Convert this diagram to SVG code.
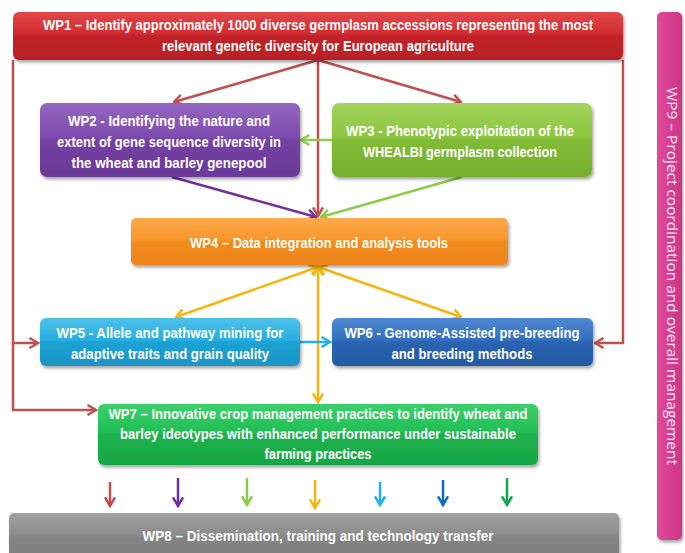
<svg xmlns="http://www.w3.org/2000/svg" width="685" height="553" viewBox="0 0 685 553">
<defs>
<style>
.t{font-family:"Liberation Sans",Arial,sans-serif;font-weight:bold;font-size:14.5px;fill:#fff;text-anchor:middle;dominant-baseline:central}
.t9{font-family:"Open Sans","DejaVu Sans",sans-serif;font-size:14px;fill:#FCE8F2;text-anchor:middle;dominant-baseline:central}
.c{fill:none;stroke-width:2.5}
.red{stroke:#C0504D}.pur{stroke:#7030A0}.lg{stroke:#8DCB4A}.yel{stroke:#F5B50E}.lb{stroke:#1FB0EC}.bl{stroke:#0F6CC0}.gr{stroke:#10A84C}
</style>
<filter id="sh" x="-5%" y="-10%" width="110%" height="130%"><feDropShadow dx="1.5" dy="2.5" stdDeviation="1.8" flood-color="#000" flood-opacity="0.35"/></filter>
<linearGradient id="g1" x1="0" y1="0" x2="0" y2="1"><stop offset="0" stop-color="#E0474A"/><stop offset="0.45" stop-color="#D42C30"/><stop offset="0.5" stop-color="#C2232A"/><stop offset="1" stop-color="#B71F24"/></linearGradient>
<linearGradient id="g2" x1="0" y1="0" x2="0" y2="1"><stop offset="0" stop-color="#9467C2"/><stop offset="0.45" stop-color="#7E4CAE"/><stop offset="0.5" stop-color="#7441A4"/><stop offset="1" stop-color="#6A3A98"/></linearGradient>
<linearGradient id="g3" x1="0" y1="0" x2="0" y2="1"><stop offset="0" stop-color="#A2D45C"/><stop offset="0.45" stop-color="#8CC63F"/><stop offset="0.5" stop-color="#82BC37"/><stop offset="1" stop-color="#76AE2E"/></linearGradient>
<linearGradient id="g4" x1="0" y1="0" x2="0" y2="1"><stop offset="0" stop-color="#FCAA4E"/><stop offset="0.45" stop-color="#F8962A"/><stop offset="0.5" stop-color="#F38C1F"/><stop offset="1" stop-color="#EC841A"/></linearGradient>
<linearGradient id="g5" x1="0" y1="0" x2="0" y2="1"><stop offset="0" stop-color="#4DC2EA"/><stop offset="0.45" stop-color="#2AAEDF"/><stop offset="0.5" stop-color="#1FA2D4"/><stop offset="1" stop-color="#1B94C6"/></linearGradient>
<linearGradient id="g6" x1="0" y1="0" x2="0" y2="1"><stop offset="0" stop-color="#4F88D2"/><stop offset="0.45" stop-color="#3470C0"/><stop offset="0.5" stop-color="#2B64B2"/><stop offset="1" stop-color="#255AA4"/></linearGradient>
<linearGradient id="g7" x1="0" y1="0" x2="0" y2="1"><stop offset="0" stop-color="#3CD06C"/><stop offset="0.45" stop-color="#22BE55"/><stop offset="0.5" stop-color="#1DB24E"/><stop offset="1" stop-color="#18A646"/></linearGradient>
<linearGradient id="g8" x1="0" y1="0" x2="0" y2="1"><stop offset="0" stop-color="#A0A0A0"/><stop offset="0.45" stop-color="#8C8C8C"/><stop offset="0.5" stop-color="#848484"/><stop offset="1" stop-color="#7E7E7E"/></linearGradient>
<linearGradient id="g9" x1="0" y1="0" x2="1" y2="0"><stop offset="0" stop-color="#E04A98"/><stop offset="1" stop-color="#CE3488"/></linearGradient>
<marker id="mRed" viewBox="0 0 12 12" markerWidth="12" markerHeight="12" refX="10.5" refY="6" orient="auto-start-reverse" markerUnits="userSpaceOnUse"><path d="M2,1 L10.5,6 L2,11" fill="none" stroke="#C0504D" stroke-width="2.5"/></marker>
<marker id="mPur" viewBox="0 0 12 12" markerWidth="12" markerHeight="12" refX="10.5" refY="6" orient="auto-start-reverse" markerUnits="userSpaceOnUse"><path d="M2,1 L10.5,6 L2,11" fill="none" stroke="#7030A0" stroke-width="2.5"/></marker>
<marker id="mLg" viewBox="0 0 12 12" markerWidth="12" markerHeight="12" refX="10.5" refY="6" orient="auto-start-reverse" markerUnits="userSpaceOnUse"><path d="M2,1 L10.5,6 L2,11" fill="none" stroke="#8DCB4A" stroke-width="2.5"/></marker>
<marker id="mYel" viewBox="0 0 12 12" markerWidth="12" markerHeight="12" refX="10.5" refY="6" orient="auto-start-reverse" markerUnits="userSpaceOnUse"><path d="M2,1 L10.5,6 L2,11" fill="none" stroke="#F5B50E" stroke-width="2.5"/></marker>
<marker id="mLb" viewBox="0 0 12 12" markerWidth="12" markerHeight="12" refX="10.5" refY="6" orient="auto-start-reverse" markerUnits="userSpaceOnUse"><path d="M2,1 L10.5,6 L2,11" fill="none" stroke="#1FB0EC" stroke-width="2.5"/></marker>
<marker id="mBl" viewBox="0 0 12 12" markerWidth="12" markerHeight="12" refX="10.5" refY="6" orient="auto-start-reverse" markerUnits="userSpaceOnUse"><path d="M2,1 L10.5,6 L2,11" fill="none" stroke="#0F6CC0" stroke-width="2.5"/></marker>
<marker id="mGr" viewBox="0 0 12 12" markerWidth="12" markerHeight="12" refX="10.5" refY="6" orient="auto-start-reverse" markerUnits="userSpaceOnUse"><path d="M2,1 L10.5,6 L2,11" fill="none" stroke="#10A84C" stroke-width="2.5"/></marker>
</defs>
<rect width="685" height="553" fill="#fff"/>

<g id="connectors">
<path class="c red" d="M13,60 V410 H96" marker-end="url(#mRed)"/>
<path class="c red" d="M13,343 H38" marker-end="url(#mRed)"/>
<path class="c red" d="M623,60 V343 H595" marker-end="url(#mRed)"/>
<path class="c red" d="M318,60 L174,102" marker-end="url(#mRed)"/>
<path class="c red" d="M318,60 L461,102" marker-end="url(#mRed)"/>
<path class="c red" d="M318,60 V216" marker-end="url(#mRed)"/>
<path class="c lg" d="M332,140 H301" marker-end="url(#mLg)"/>
<path class="c pur" d="M172,177 L316,217" marker-end="url(#mPur)"/>
<path class="c lg" d="M462,177 L321,217" marker-end="url(#mLg)"/>
<path class="c yel" d="M318,267 L176,317" marker-start="url(#mYel)" marker-end="url(#mYel)"/>
<path class="c yel" d="M318,267 L461,317" marker-start="url(#mYel)" marker-end="url(#mYel)"/>
<path class="c yel" d="M318,267 V402" marker-start="url(#mYel)" marker-end="url(#mYel)"/>
<path class="c lb" d="M300,342 H330" marker-end="url(#mLb)"/>
<path class="c red" d="M110,482 V506" marker-end="url(#mRed)"/>
<path class="c pur" d="M178,478 V506" marker-end="url(#mPur)"/>
<path class="c lg" d="M247,478 V505" marker-end="url(#mLg)"/>
<path class="c yel" d="M315,480 V508" marker-end="url(#mYel)"/>
<path class="c lb" d="M380,482 V505" marker-end="url(#mLb)"/>
<path class="c bl" d="M443,480 V505" marker-end="url(#mBl)"/>
<path class="c gr" d="M507,478 V505" marker-end="url(#mGr)"/>
</g>

<g id="wp1"><rect x="13" y="12" width="610" height="48" rx="6" fill="url(#g1)" filter="url(#sh)"/>
<text class="t" x="318" y="25" textLength="550" lengthAdjust="spacingAndGlyphs">WP1 – Identify approximately 1000 diverse germplasm accessions representing the most</text>
<text class="t" x="318" y="46" textLength="312" lengthAdjust="spacingAndGlyphs">relevant genetic diversity for European agriculture</text></g>

<g id="wp2"><rect x="40" y="103" width="260" height="74" rx="7" fill="url(#g2)" filter="url(#sh)"/>
<text class="t" x="169" y="121" textLength="202" lengthAdjust="spacingAndGlyphs">WP2 - Identifying the nature and</text>
<text class="t" x="169" y="142" textLength="224" lengthAdjust="spacingAndGlyphs">extent of gene sequence diversity in</text>
<text class="t" x="169" y="163" textLength="195" lengthAdjust="spacingAndGlyphs">the wheat and barley genepool</text></g>

<g id="wp3"><rect x="332" y="103" width="260" height="74" rx="7" fill="url(#g3)" filter="url(#sh)"/>
<text class="t" x="460" y="131" textLength="228" lengthAdjust="spacingAndGlyphs">WP3 - Phenotypic exploitation of the</text>
<text class="t" x="460" y="152" textLength="194" lengthAdjust="spacingAndGlyphs">WHEALBI germplasm collection</text></g>

<g id="wp4"><rect x="131" y="218" width="377" height="47" rx="5" fill="url(#g4)" filter="url(#sh)"/>
<text class="t" x="319" y="243" textLength="258" lengthAdjust="spacingAndGlyphs">WP4 – Data integration and analysis tools</text></g>

<g id="wp5"><rect x="40" y="318" width="260" height="48" rx="6" fill="url(#g5)" filter="url(#sh)"/>
<text class="t" x="170" y="333" textLength="227" lengthAdjust="spacingAndGlyphs">WP5 - Allele and pathway mining for</text>
<text class="t" x="170" y="354" textLength="198" lengthAdjust="spacingAndGlyphs">adaptive traits and grain quality</text></g>

<g id="wp6"><rect x="332" y="318" width="261" height="48" rx="6" fill="url(#g6)" filter="url(#sh)"/>
<text class="t" x="462" y="333" textLength="235" lengthAdjust="spacingAndGlyphs">WP6 - Genome-Assisted pre-breeding</text>
<text class="t" x="462" y="354" textLength="141" lengthAdjust="spacingAndGlyphs">and breeding methods</text></g>

<g id="wp7"><rect x="98" y="404" width="440" height="61" rx="6" fill="url(#g7)" filter="url(#sh)"/>
<text class="t" x="318" y="414" textLength="419" lengthAdjust="spacingAndGlyphs">WP7 – Innovative crop management practices to identify wheat and</text>
<text class="t" x="318" y="434" textLength="396" lengthAdjust="spacingAndGlyphs">barley ideotypes with enhanced performance under sustainable</text>
<text class="t" x="318" y="454" textLength="107" lengthAdjust="spacingAndGlyphs">farming practices</text></g>

<g id="wp8"><rect x="9" y="513" width="610" height="48" rx="5" fill="url(#g8)" filter="url(#sh)"/>
<text class="t" x="318" y="536" textLength="351" lengthAdjust="spacingAndGlyphs">WP8 – Dissemination, training and technology transfer</text></g>

<g id="wp9"><rect x="657" y="12" width="25" height="528" rx="5" fill="url(#g9)" filter="url(#sh)"/>
<text class="t9" transform="translate(672,276) rotate(90)" x="0" y="0" textLength="378" lengthAdjust="spacingAndGlyphs">WP9 – Project coordination and overall management</text></g>
</svg>
